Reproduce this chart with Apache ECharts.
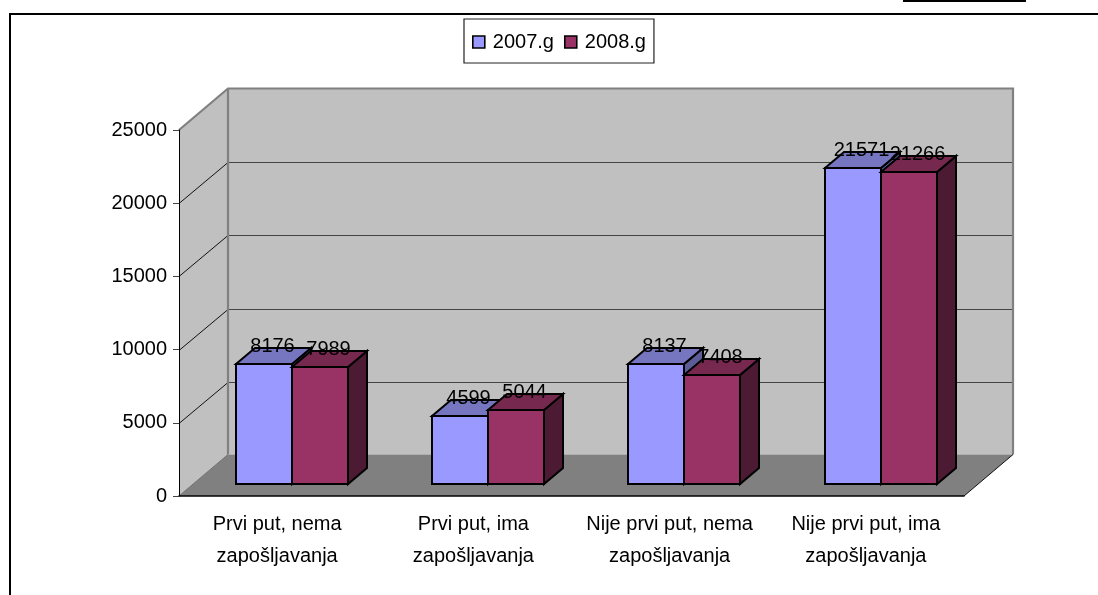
<!DOCTYPE html>
<html><head><meta charset="utf-8">
<style>html,body{margin:0;padding:0;background:#fff}#c{width:1098px;height:595px}</style>
<script src="https://cdn.jsdelivr.net/npm/echarts@6/dist/echarts.min.js"></script>
</head><body><div id="c"></div>
<script>
const categories = ['Prvi put, nema\nzapošljavanja','Prvi put, ima\nzapošljavanja','Nije prvi put, nema\nzapošljavanja','Nije prvi put, ima\nzapošljavanja'];
const values2007 = [8176, 4599, 8137, 21571];
const values2008 = [7989, 5044, 7408, 21266];
const yTicks = [5000, 10000, 15000, 20000];
const FONT = '"Liberation Sans", Arial, sans-serif';
const FS = 20;
const WALL = [49, -41.5];
const BAR_FRONT = [14.7, -12.5];
const BAR_DEPTH = [19, -16];
const BAR_W = 56;

function poly(points, fill, stroke, lw, z2) {
  return {type:'polygon', shape:{points}, style:{fill, stroke, lineWidth:lw, lineJoin:'miter'}, z2:z2||0};
}
function renderBackdrop(params, api) {
  const g = params.coordSys, L=g.x, R=g.x+g.width, T=g.y, B=g.y+g.height;
  const dx=WALL[0], dy=WALL[1];
  const kids = [
    poly([[L,T],[L+dx,T+dy],[L+dx,B+dy],[L,B]], '#c0c0c0', null, 0),
    poly([[L+dx,T+dy],[R+dx,T+dy],[R+dx,B+dy],[L+dx,B+dy]], '#c0c0c0', null, 0),
    poly([[L,B],[L+dx,B+dy],[R+dx,B+dy],[R,B]], '#808080', null, 0)
  ];
  yTicks.forEach(v => {
    const y = Math.round(api.coord([0,v])[1]) + 0.5;
    const yb = Math.round(y+dy)+0.5;
    kids.push({type:'line', shape:{x1:L,y1:y,x2:L+dx,y2:yb}, style:{stroke:'#111',lineWidth:1}});
    kids.push({type:'line', shape:{x1:L+dx,y1:yb,x2:R+dx,y2:yb}, style:{stroke:'#444',lineWidth:1.2}});
  });
  const edge = {stroke:'#808080', lineWidth:2.2, fill:null};
  kids.push({type:'polyline', shape:{points:[[L,T],[L+dx,T+dy],[R+dx,T+dy],[R+dx,B+dy]]}, style:edge});
  kids.push({type:'line', shape:{x1:L+dx,y1:T+dy,x2:L+dx,y2:B+dy}, style:{stroke:'#808080',lineWidth:2.2}});
  kids.push({type:'line', shape:{x1:R,y1:B,x2:R+dx,y2:B+dy}, style:{stroke:'#111',lineWidth:1}});
  kids.push({type:'line', shape:{x1:L,y1:B,x2:L+dx,y2:B+dy}, style:{stroke:'#707070',lineWidth:1}});
  return {type:'group', children:kids};
}
function barRenderer(side, front, top, dark) {
  return function(params, api) {
    const cat = api.value(0), v = api.value(1);
    const base = api.coord([cat,0]), head = api.coord([cat,v]);
    const xC = Math.round(base[0]+BAR_FRONT[0]);
    const x0 = xC + (side<0 ? -BAR_W : 0), x1 = x0+BAR_W;
    const yB = Math.round(base[1]+BAR_FRONT[1]), yT = Math.round(head[1]+BAR_FRONT[1]);
    const dx = BAR_DEPTH[0], dy = BAR_DEPTH[1];
    const S = '#000', W = 2;
    return {type:'group', children:[
      poly([[x1,yT],[x1+dx,yT+dy],[x1+dx,yB+dy],[x1,yB]], dark, S, W),
      poly([[x0,yT],[x0+dx,yT+dy],[x1+dx,yT+dy],[x1,yT]], top, S, W),
      poly([[x0,yT],[x1,yT],[x1,yB],[x0,yB]], front, S, W),
      {type:'text', z2:100, style:{text:String(v), x:(x0+x1)/2+8.5, y:yT-18, align:'center', verticalAlign:'middle',
        font:FS+'px '+FONT, fill:'#000'}}
    ]};
  };
}
const toPairs = a => a.map((v,i)=>[i,v]);
const chart = echarts.init(document.getElementById('c'), null, {renderer:'canvas'});
chart.setOption({
  animation:false,
  backgroundColor:'#fff',
  graphic:[
    {type:'rect', shape:{x:10,y:14,width:1200,height:700}, style:{fill:null,stroke:'#000',lineWidth:2}, silent:true},
    {type:'rect', shape:{x:903,y:0,width:123,height:2}, style:{fill:'#000'}, silent:true}
  ],
  legend:{
    data:['2007.g','2008.g'], left:464, top:19, orient:'horizontal',
    icon:'rect', itemWidth:12, itemHeight:12, itemGap:10,
    padding:[13,8,11,8], backgroundColor:'#fff', borderColor:'#222', borderWidth:1.2,
    selectedMode:false,
    itemStyle:{borderColor:'#000',borderWidth:1.6},
    textStyle:{fontFamily:FONT,fontSize:FS,color:'#000',padding:[0,0,0,3]}
  },
  grid:{left:179,right:134,top:130,bottom:99,containLabel:false},
  xAxis:{type:'category',data:categories,boundaryGap:true,z:5,
    axisLine:{lineStyle:{color:'#000',width:1.5}},
    axisTick:{alignWithLabel:false,length:6,lineStyle:{color:'#222',width:1}},
    axisLabel:{interval:0,margin:12,fontFamily:FONT,fontSize:FS,lineHeight:32.5,color:'#000'},
    splitLine:{show:false}},
  yAxis:{type:'value',min:0,max:25000,interval:5000,z:5,
    axisLine:{show:true,lineStyle:{color:'#000',width:1}},
    axisTick:{show:true,length:6,lineStyle:{color:'#444',width:1}},
    axisLabel:{margin:12,fontFamily:FONT,fontSize:FS,color:'#000',formatter:v=>String(v)},
    splitLine:{show:false}},
  series:[
    {type:'custom',name:'wall',silent:true,data:[[0,0]],renderItem:renderBackdrop,encode:{x:0,y:1},z:1,clip:false},
    {type:'custom',name:'2007.g',data:toPairs(values2007),encode:{x:0,y:1},z:2,clip:false,
      itemStyle:{color:'#9999ff'},renderItem:barRenderer(-1,'#9999ff','#7676c0','#5c5c99')},
    {type:'custom',name:'2008.g',data:toPairs(values2008),encode:{x:0,y:1},z:2,clip:false,
      itemStyle:{color:'#993366'},renderItem:barRenderer(1,'#993366','#77284f','#4d1a33')}
  ]
});
</script></body></html>
